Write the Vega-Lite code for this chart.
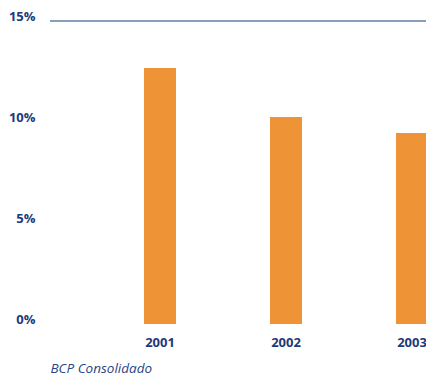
{
  "$schema": "https://vega.github.io/schema/vega-lite/v6.json",
  "width": 376,
  "height": 303,
  "autosize": {"type": "none"},
  "padding": {"left": 50, "top": 21, "right": 0, "bottom": 52},
  "background": "white",
  "config": {
    "view": {"stroke": null},
    "font": "Open Sans"
  },
  "data": {
    "values": [
      {"year": "2001", "value": 12.67},
      {"year": "2002", "value": 10.25},
      {"year": "2003", "value": 9.46}
    ]
  },
  "layer": [
    {
      "mark": {"type": "bar", "color": "#EE9336"},
      "encoding": {
        "x": {
          "field": "year",
          "type": "nominal",
          "scale": {"range": [2, 378], "paddingInner": 0.746, "paddingOuter": 0.365, "align": 1},
          "axis": {
            "title": "BCP Consolidado",
            "titleX": 0,
            "titleAlign": "left",
            "titleFont": "Open Sans",
            "titleFontStyle": "italic",
            "titleFontWeight": "normal",
            "titleFontSize": 13.5,
            "titleColor": "#2A4585",
            "titlePadding": 12,
            "labelAngle": 0,
            "labelFont": "Open Sans",
            "labelFontWeight": "bold",
            "labelFontSize": 13,
            "labelColor": "#1E3A7B",
            "labelPadding": 12,
            "domain": false,
            "ticks": false
          }
        },
        "y": {
          "field": "value",
          "type": "quantitative",
          "scale": {"domain": [0, 15], "nice": false},
          "axis": {
            "title": null,
            "values": [0, 5, 10, 15],
            "labelExpr": "datum.value + '%'",
            "labelFont": "Open Sans",
            "labelFontWeight": "bold",
            "labelFontSize": 13,
            "labelColor": "#1E3A7B",
            "labelPadding": 15,
            "labelOffset": -5,
            "domain": false,
            "ticks": false,
            "grid": false
          }
        }
      }
    },
    {
      "mark": {"type": "rule", "color": "#8A9DBA", "strokeWidth": 2},
      "encoding": {
        "y": {"datum": 15, "type": "quantitative"}
      }
    }
  ]
}
